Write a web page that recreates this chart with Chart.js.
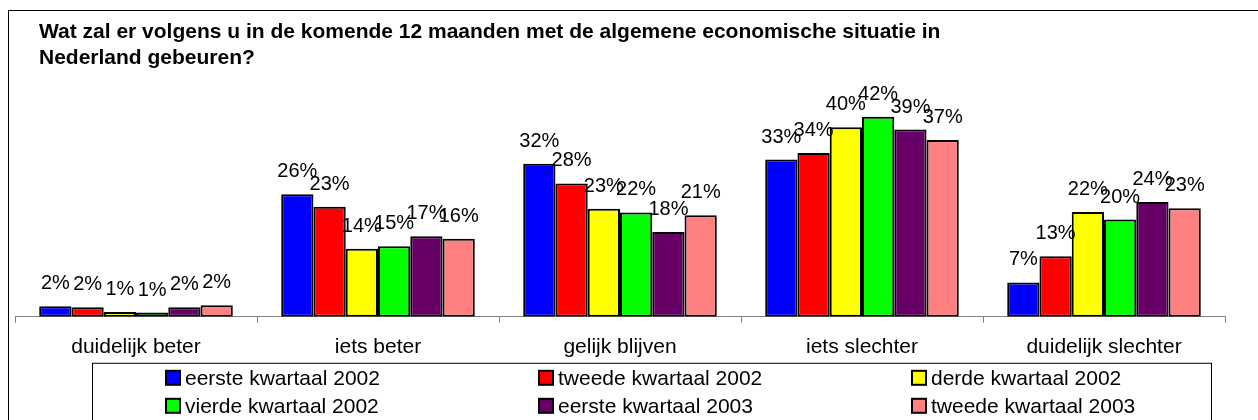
<!DOCTYPE html>
<html>
<head>
<meta charset="utf-8">
<title>Economische situatie</title>
<script src="https://cdn.jsdelivr.net/npm/chart.js@4.4.1/dist/chart.umd.min.js"></script>
<style>
	html, body { margin: 0; padding: 0; background: #fff; overflow: hidden; }
	#wrap { position: relative; width: 1258px; height: 420px; }
</style>
</head>
<body>
<div id="wrap"><canvas id="chart"></canvas></div>
<script>
const titleLines = [
	"Wat zal er volgens u in de komende 12 maanden met de algemene economische situatie in",
	"Nederland gebeuren?",
];
const categories = ["duidelijk beter", "iets beter", "gelijk blijven", "iets slechter", "duidelijk slechter"];
const seriesNames = [
	"eerste kwartaal 2002",
	"tweede kwartaal 2002",
	"derde kwartaal 2002",
	"vierde kwartaal 2002",
	"eerste kwartaal 2003",
	"tweede kwartaal 2003",
];

// percentages
const q1_2002 = [2.2, 25.7, 32.1, 33.0, 7.2];
const q2_2002 = [2.0, 23.1, 28.0, 34.4, 12.7];
const q3_2002 = [1.0, 14.3, 22.7, 39.8, 22.0];
const q4_2002 = [0.9, 14.8, 21.9, 42.0, 20.4];
const q1_2003 = [2.0, 16.9, 17.8, 39.3, 24.1];
const q2_2003 = [2.4, 16.4, 21.3, 37.1, 22.8];

const seriesData = [q1_2002, q2_2002, q3_2002, q4_2002, q1_2003, q2_2003];
const colors = ["#0000ff", "#ff0000", "#ffff00", "#00ff00", "#660066", "#ff8080"];

const FONT = "'Liberation Sans', Arial, Helvetica, sans-serif";
Chart.defaults.font.family = FONT;
Chart.defaults.color = "#000";

// outer frame, only left and top edge are inside the picture
const frame = {
	id: "frame",
	beforeDraw(chart) {
		const ctx = chart.ctx;
		ctx.save();
		ctx.fillStyle = "#fff";
		ctx.fillRect(0, 0, chart.width, chart.height);
		ctx.strokeStyle = "#000";
		ctx.lineWidth = 1;
		ctx.strokeRect(8.5, 10.5, chart.width + 20, chart.height + 20);
		ctx.restore();
	},
};

// title starts a bit right of the plot area
const titleShift = {
	id: "titleShift",
	afterLayout(chart) {
		chart.titleBlock.left = chart.chartArea.left + 24;
	},
};

const barLabels = {
	id: "barLabels",
	afterDatasetsDraw(chart) {
		const ctx = chart.ctx;
		ctx.save();
		ctx.font = "20px " + FONT;
		ctx.fillStyle = "#000";
		ctx.textAlign = "center";
		ctx.textBaseline = "alphabetic";
		chart.data.datasets.forEach((ds, i) => {
			chart.getDatasetMeta(i).data.forEach((bar, j) => {
				ctx.fillText(Math.round(ds.data[j]) + "%", bar.x, bar.y - 17);
			});
		});
		ctx.restore();
	},
};

// boxed legend in three columns under the axis
const gridLegend = {
	id: "gridLegend",
	afterDraw(chart, args, opts) {
		const ctx = chart.ctx;
		const area = chart.chartArea;
		const boxLeft = area.left + opts.inset;
		const boxTop = area.bottom + opts.top;
		ctx.save();
		ctx.strokeStyle = "#000";
		ctx.lineWidth = 1;
		ctx.strokeRect(boxLeft + 0.5, boxTop + 0.5, opts.width, 200);
		ctx.font = opts.size + "px " + FONT;
		ctx.textBaseline = "middle";
		ctx.textAlign = "left";
		chart.data.datasets.forEach((ds, i) => {
			const col = i % 3;
			const row = Math.floor(i / 3);
			const x = boxLeft + opts.firstCol + col * opts.colStep;
			const y = boxTop + opts.firstRow + row * opts.rowStep;
			ctx.fillStyle = ds.backgroundColor;
			ctx.fillRect(x, y - 7, 14, 14);
			ctx.strokeStyle = "#000";
			ctx.lineWidth = 2;
			ctx.strokeRect(x, y - 7, 14, 14);
			ctx.fillStyle = "#000";
			ctx.fillText(ds.label, x + 19, y + 1);
		});
		ctx.restore();
	},
};

new Chart(document.getElementById("chart"), {
	type: "bar",
	data: {
		labels: categories,
		datasets: seriesData.map((d, i) => ({
			label: seriesNames[i],
			data: d,
			backgroundColor: colors[i],
			borderColor: "#000",
			borderWidth: 2,
			borderSkipped: false,
		})),
	},
	options: {
		responsive: true,
		maintainAspectRatio: false,
		animation: false,
		layout: { padding: { left: 15, right: 33, top: 0, bottom: 48 } },
		datasets: { bar: { barPercentage: 1, categoryPercentage: 0.8 } },
		scales: {
			x: {
				grid: { drawOnChartArea: false, drawTicks: true, tickLength: 6, color: "#808080" },
				border: { display: true, color: "#808080", width: 1 },
				ticks: { color: "#000", font: { size: 21 }, padding: 12, autoSkip: false, maxRotation: 0 },
			},
			y: { display: false, min: 0, max: 45 },
		},
		plugins: {
			legend: { display: false },
			tooltip: { enabled: false },
			title: {
				display: true,
				text: titleLines,
				align: "start",
				color: "#000",
				font: { size: 21, weight: "bold", lineHeight: 1.2 },
				padding: { top: 20, bottom: 32 },
			},
			gridLegend: {
				inset: 77,
				top: 46,
				width: 1119,
				size: 21,
				firstCol: 74,
				colStep: 373,
				firstRow: 15,
				rowStep: 28,
			},
		},
	},
	plugins: [frame, titleShift, barLabels, gridLegend],
});
</script>
</body>
</html>
